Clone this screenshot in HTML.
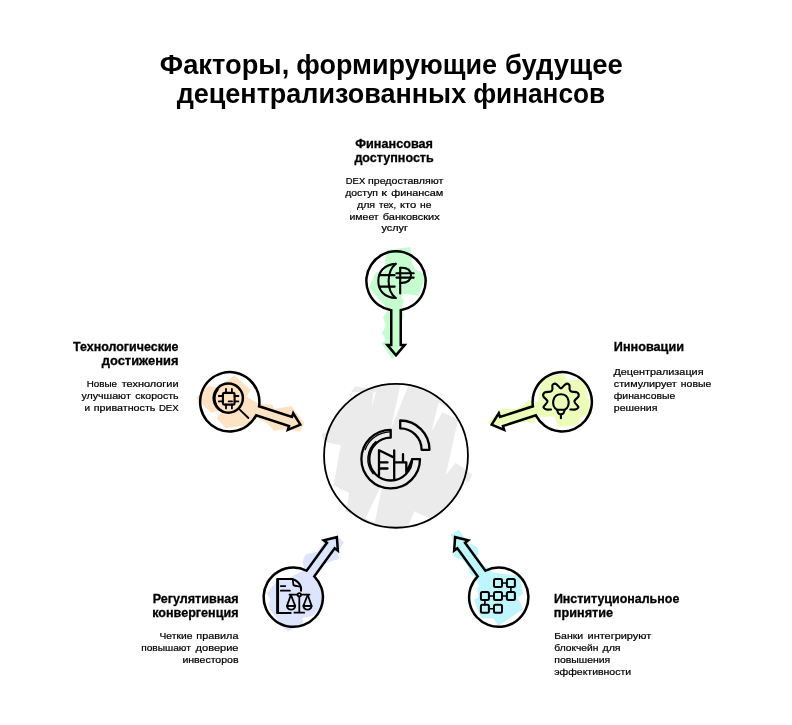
<!DOCTYPE html>
<html lang="ru">
<head>
<meta charset="utf-8">
<title>Факторы, формирующие будущее децентрализованных финансов</title>
<style>
html,body{margin:0;padding:0;background:#fff;}
body{width:792px;height:725px;overflow:hidden;font-family:"Liberation Sans", sans-serif;}
svg{display:block;will-change:transform;}
text{font-family:"Liberation Sans", sans-serif;fill:#000;}
text.b{stroke:#000;stroke-width:0.22px;}
text.h{stroke:#000;stroke-width:0.3px;}
.ln{fill:none;stroke:#000;stroke-linecap:round;stroke-linejoin:round;}
</style>
</head>
<body>
<svg width="792" height="725" viewBox="0 0 792 725">
<rect width="792" height="725" fill="#fff"/>

<g id="title">
<text y="73.9" font-size="27" font-weight="bold"><tspan x="159.85" textLength="129.4" lengthAdjust="spacingAndGlyphs">Факторы,</tspan> <tspan x="296.35" textLength="200.6" lengthAdjust="spacingAndGlyphs">формирующие</tspan> <tspan x="504.95" textLength="117.7" lengthAdjust="spacingAndGlyphs">будущее</tspan></text>
<text y="103.3" font-size="27" font-weight="bold"><tspan x="176.65" textLength="289.5" lengthAdjust="spacingAndGlyphs">децентрализованных</tspan> <tspan x="473.15" textLength="132.0" lengthAdjust="spacingAndGlyphs">финансов</tspan></text>
</g>
<g id="blobs">
<polygon fill="#c6fdcf" points="386.7,250.3 410.6,247.0 411.6,260.9 414.1,268.3 423.6,273.8 425.0,276.8 418.6,295.6 402.7,293.7 401.7,297.6 403.7,300.6 401.7,307.6 403.7,313.5 403.4,318.0 401.5,322.0 401.8,340.4 399.9,344.9 398.1,351.8 392.4,359.8 381.7,343.2 385.9,339.9 382.0,333.0 385.8,326.0 383.2,317.1 388.5,309.9 368.9,287.7 375.9,272.3 384.3,271.8 384.8,263.9"/>
<polygon fill="#fde3c4" points="234.7,375.6 250.6,390.0 246.8,396.8 258.2,403.6 272.6,404.7 274.1,408.9 291.5,405.9 304.4,423.3 299.8,431.7 287.0,428.6 274.1,430.9 267.3,423.3 255.2,417.3 246.0,425.6 225.6,427.9 216.5,418.0 222.6,409.7 211.2,412.7 196.0,398.3 208.2,385.5 216.5,387.7"/>
<polygon fill="#ebfdb8" points="543.6,376.4 564.1,374.1 566.4,380.2 584.5,379.4 590.6,408.9 592.9,413.5 580.0,418.0 579.2,424.8 558.8,427.1 554.2,416.5 536.8,417.3 534.2,422.9 525.2,422.1 503.8,425.7 496.0,424.9 487.0,423.3 502.2,408.5 516.1,409.0 522.7,406.1 528.4,400.3 538.3,402.1 540.6,384.7"/>
<polygon fill="#dce5fd" points="340.5,538.5 343.7,542.5 338.1,552.0 338.9,559.1 326.2,563.1 315.1,576.6 321.4,588.5 323.8,604.4 311.9,616.3 302.4,617.9 303.2,624.2 288.1,631.3 284.1,628.2 270.6,610.7 268.3,604.4 270.6,599.6 266.7,593.3 278.6,579.0 289.7,577.4 302.4,571.0 304.0,566.3 302.4,561.5 305.6,554.4 316.7,552.0 324.6,540.9 329.4,539.3"/>
<polygon fill="#bff5fc" points="458.8,529.8 463.2,536.1 469.0,543.2 476.8,546.6 478.7,552.0 477.1,556.7 482.6,564.7 489.8,568.7 492.1,572.6 519.1,575.8 523.1,594.0 517.5,597.2 523.1,609.1 498.5,625.8 493.7,618.7 481.0,617.9 473.9,599.6 478.7,597.2 477.1,588.5 479.4,586.1 474.7,577.4 469.1,572.6 469.1,567.9 462.8,559.9 454.0,556.7 454.8,548.8 450.9,534.5"/>
</g>
<g id="center">
<circle cx="396.0" cy="455.8" r="71.9" fill="#ebebeb"/>
<polygon fill="#ebebeb" points="351.0,392.0 355.3,386.2 369.0,388.5 362.0,392.0"/>
<polygon fill="#ebebeb" points="321.2,434.8 325.5,432.3 331.0,440.0 326.0,444.0"/>
<polygon fill="#ebebeb" points="455.6,462.8 472.2,474.4 468.0,483.0 458.0,472.0"/>
<polygon fill="#ebebeb" points="347.0,506.2 345.0,511.4 365.7,517.2 360.0,510.0"/>
<polygon fill="#fff" points="373.2,393.0 376.0,391.5 371.9,406.9"/>
<polygon fill="#fff" points="400.5,384.0 408.5,385.5 390.9,428.6"/>
<polygon fill="#fff" points="438.5,402.5 431.6,431.3 442.4,412.3 458.1,419.7 452.0,410.0"/>
<polygon fill="#fff" points="458.1,419.7 445.7,475.2 455.6,462.8 470.0,472.5 471.0,445.0 463.0,428.0"/>
<polygon fill="#fff" points="325.3,442.0 340.8,445.2 333.6,485.5 349.1,492.8 347.0,506.2 338.0,500.0 328.0,485.0 322.0,460.0"/>
<polygon fill="#fff" points="365.4,518.5 374.8,522.5 383.0,482.0"/>
<polygon fill="#fff" points="409.1,524.5 414.3,511.3 433.7,520.6 422.0,527.0"/>
<circle class="ln" cx="396.0" cy="455.8" r="71.95" stroke-width="1.8"/>
</g>
<g id="pins">
<path class="ln" stroke-width="2.5" style="stroke-linejoin:miter" transform="translate(396.00,281.00) rotate(90)" d="M29.27,-4.75 A29.65 29.65 0 1 0 29.27,4.75 L63.9,4.75 L63.9,8.7 L74.2,0 L63.9,-8.7 L63.9,-4.75 Z"/>
<path class="ln" stroke-width="2.5" style="stroke-linejoin:miter" transform="translate(562.24,401.78) rotate(162)" d="M29.27,-4.75 A29.65 29.65 0 1 0 29.27,4.75 L63.9,4.75 L63.9,8.7 L74.2,0 L63.9,-8.7 L63.9,-4.75 Z"/>
<path class="ln" stroke-width="2.5" style="stroke-linejoin:miter" transform="translate(498.74,597.22) rotate(234)" d="M29.27,-4.75 A29.65 29.65 0 1 0 29.27,4.75 L63.9,4.75 L63.9,8.7 L74.2,0 L63.9,-8.7 L63.9,-4.75 Z"/>
<path class="ln" stroke-width="2.5" style="stroke-linejoin:miter" transform="translate(293.26,597.22) rotate(306)" d="M29.27,-4.75 A29.65 29.65 0 1 0 29.27,4.75 L63.9,4.75 L63.9,8.7 L74.2,0 L63.9,-8.7 L63.9,-4.75 Z"/>
<path class="ln" stroke-width="2.5" style="stroke-linejoin:miter" transform="translate(229.76,401.78) rotate(378)" d="M29.27,-4.75 A29.65 29.65 0 1 0 29.27,4.75 L63.9,4.75 L63.9,8.7 L74.2,0 L63.9,-8.7 L63.9,-4.75 Z"/>
</g>
<g id="icons">
<g class="ln" stroke-width="2.1">
<path d="M395.7,263.9 C384,264.5 378.3,272 378.3,281 C378.3,290 384,297.5 395.7,298"/>
<path d="M395.7,263.9 C390.5,268 388.6,274 388.6,281 C388.6,288 390.5,294 395.7,298"/>
<path d="M379.6,275.1 H394.7 M379.6,286.6 H394.7"/>
<path d="M400.2,267.8 V293.5"/>
<path d="M400.2,267.8 C408,267 411,271 411,275.3 C411,279.6 408,283.3 400.2,282.8"/>
<path d="M396.4,273.2 H413.7 M396.4,277.6 H413.7"/>
</g>
<g class="ln" stroke-width="1.8">
<circle cx="228.3" cy="398.1" r="14.6" stroke-width="2.5"/>
<path d="M222.5,411.2 A14.4 14.4 0 0 1 217.2,389.2" stroke-width="1.4" transform="translate(0.9,0.3)"/>
<path d="M239.5,409.3 L248.4,418"/>
<rect x="222.9" y="392.9" width="11.7" height="11.7" rx="1.6" stroke-width="2.1"/>
<path d="M226,388.8 V393 M231.9,388.8 V393 M226,404.4 V408.4 M231.9,404.4 V408.4"/>
<path d="M218.8,396 H223 M218.8,401.4 H223 M234.4,396 H238.4 M234.4,401.4 H238.4"/>
<path d="M228.6,401.4 H232"/>
</g>
<g class="ln" stroke-width="2.1">
<path d="M551.07,409.45 C550.32,409.45 547.86,409.87 546.59,409.45 C545.32,409.03 543.30,408.28 543.45,406.94 C543.60,405.59 547.51,403.17 547.48,401.38 C547.45,399.59 543.72,397.67 543.27,396.18 C542.82,394.68 543.54,393.19 544.79,392.41 C546.05,391.64 549.53,392.04 550.80,391.52 C552.07,390.99 552.14,390.32 552.41,389.28 C552.68,388.23 552.04,386.18 552.41,385.24 C552.79,384.30 553.88,383.70 554.65,383.63 C555.43,383.55 556.03,384.00 557.08,384.79 C558.12,385.58 559.65,388.38 560.93,388.38 C562.22,388.38 563.74,385.58 564.79,384.79 C565.83,384.00 566.43,383.55 567.21,383.63 C567.98,383.70 569.04,384.30 569.45,385.24 C569.85,386.18 569.33,388.23 569.63,389.28 C569.93,390.32 570.00,390.99 571.24,391.52 C572.48,392.04 575.84,391.64 577.07,392.41 C578.29,393.19 579.04,394.68 578.59,396.18 C578.14,397.67 574.41,399.59 574.38,401.38 C574.35,403.17 578.26,405.59 578.41,406.94 C578.56,408.28 576.62,409.03 575.28,409.45 C573.93,409.87 571.17,409.45 570.34,409.45 "/>
<path d="M557.2,409.8 C550.3,405.5 552.6,394.3 560.9,394.3 C569.2,394.3 571.5,405.5 564.6,409.8"/>
<path d="M557.2,409.8 C557.8,412.8 558.2,414.3 560.9,414.3 C563.6,414.3 564,412.8 564.6,409.8 Z"/>
<path d="M560.9,414.5 V418.2"/>
</g>
<g class="ln" stroke-width="1.75">
<path d="M290.6,613.05 H277.2 V579 H292.4 C296.6,580.4 299.9,583.6 301,587.3 V590.7" stroke-width="2.1"/>
<path d="M278,579.4 V612.8" stroke-width="2.1"/>
<path d="M292.6,579.4 C293.3,581.4 293.1,583.4 293.4,585.1 C295.6,586.2 297.6,586 299.6,586.6"/>
<path d="M280.8,586 H285.3 M280.8,590.7 H289.9"/>
<circle cx="299.3" cy="594.7" r="1.7" style="fill:#fff"/>
<path d="M299.3,596.5 V612.7 M294.4,612.7 H304.2"/>
<path d="M289.5,594.7 H297.5 M301.1,594.7 H309.5"/>
<path d="M287,605.9 C287.4,610.7 294.8,610.7 295.2,605.9 Z" style="fill:#f4f7ff"/>
<path d="M290.9,594.9 L287,605.9 H295.2 Z"/>
<path d="M303.4,605.9 C303.8,610.7 311.2,610.7 311.6,605.9 Z" style="fill:#f4f7ff"/>
<path d="M307.7,594.9 L303.4,605.9 H311.6 Z"/>
</g>
<g class="ln" stroke-width="2"><rect x="494.00" y="579.00" width="8.0" height="8.0" rx="1.5"/><rect x="506.90" y="579.00" width="8.0" height="8.0" rx="1.5"/><rect x="480.90" y="592.00" width="8.0" height="8.0" rx="1.5"/><rect x="494.00" y="592.00" width="8.0" height="8.0" rx="1.5"/><rect x="506.90" y="592.00" width="8.0" height="8.0" rx="1.5"/><rect x="480.90" y="604.70" width="8.0" height="8.0" rx="1.5"/><rect x="494.00" y="604.70" width="8.0" height="8.0" rx="1.5"/><path stroke-width="1.6" d="M502.0,583.0 H506.9 M488.9,596.0 H494.0 M502.0,596.0 H506.9 M488.9,608.7 H494.0 M510.9,587.0 V592.0 M484.9,600.0 V604.7"/></g>
<g class="ln" stroke-width="2.3">
<path d="M390.70,429.80 A29.3 29.3 0 1 0 420.00,459.10 L412.10,459.10 A21.4 21.4 0 1 1 390.70,437.70 Z"/>
<path d="M400.20,420.50 A29.3 29.3 0 0 1 429.50,449.80 L421.60,449.80 A21.4 21.4 0 0 0 400.20,428.40 Z"/>
<path d="M379,450.3 V475 M379,450.3 L394.2,457.6 M394.2,450.3 V479.6 M379,462.4 H387.5 M379,468.5 H387.5"/>
<path d="M394.2,462.4 H406.3 V472.4 M403,454.2 V462.4 M407.6,470 L412.4,459.3"/>
<path d="M365.1,449.8 A27.2 27.2 0 0 1 389.75,431.9" stroke-width="1.2"/>
<path d="M376,441.6 A22.9 22.9 0 0 0 373.2,473.8" stroke-width="1.4"/>
</g>
</g>
<g id="labels">
<text y="148.1" font-size="12.5" font-weight="bold" class="h"><tspan x="355.27" textLength="77.65" lengthAdjust="spacingAndGlyphs">Финансовая</tspan></text>
<text y="161.5" font-size="12.5" font-weight="bold" class="h"><tspan x="354.38" textLength="79.35" lengthAdjust="spacingAndGlyphs">доступность</tspan></text>
<text y="183.9" font-size="9.6" font-weight="normal" class="b"><tspan x="345.82" textLength="19.36" lengthAdjust="spacingAndGlyphs">DEX</tspan> <tspan x="368.02" textLength="75.26" lengthAdjust="spacingAndGlyphs">предоставляют</tspan></text>
<text y="195.9" font-size="9.6" font-weight="normal" class="b"><tspan x="345.32" textLength="32.66" lengthAdjust="spacingAndGlyphs">доступ</tspan> <tspan x="381.22" textLength="5.76" lengthAdjust="spacingAndGlyphs">к</tspan> <tspan x="391.22" textLength="52.06" lengthAdjust="spacingAndGlyphs">финансам</tspan></text>
<text y="207.6" font-size="9.6" font-weight="normal" class="b"><tspan x="356.92" textLength="18.26" lengthAdjust="spacingAndGlyphs">для</tspan> <tspan x="379.12" textLength="16.96" lengthAdjust="spacingAndGlyphs">тех,</tspan> <tspan x="399.92" textLength="16.26" lengthAdjust="spacingAndGlyphs">кто</tspan> <tspan x="420.12" textLength="11.36" lengthAdjust="spacingAndGlyphs">не</tspan></text>
<text y="219.5" font-size="9.6" font-weight="normal" class="b"><tspan x="349.52" textLength="29.16" lengthAdjust="spacingAndGlyphs">имеет</tspan> <tspan x="382.82" textLength="56.96" lengthAdjust="spacingAndGlyphs">банковских</tspan></text>
<text y="231.2" font-size="9.6" font-weight="normal" class="b"><tspan x="381.42" textLength="26.46" lengthAdjust="spacingAndGlyphs">услуг</tspan></text>
<text y="351.1" font-size="12.5" font-weight="bold" class="h"><tspan x="72.97" textLength="105.55" lengthAdjust="spacingAndGlyphs">Технологические</tspan></text>
<text y="364.9" font-size="12.5" font-weight="bold" class="h"><tspan x="101.78" textLength="76.75" lengthAdjust="spacingAndGlyphs">достижения</tspan></text>
<text y="386.7" font-size="9.6" font-weight="normal" class="b"><tspan x="86.72" textLength="30.16" lengthAdjust="spacingAndGlyphs">Новые</tspan> <tspan x="121.72" textLength="56.86" lengthAdjust="spacingAndGlyphs">технологии</tspan></text>
<text y="398.7" font-size="9.6" font-weight="normal" class="b"><tspan x="81.42" textLength="49.36" lengthAdjust="spacingAndGlyphs">улучшают</tspan> <tspan x="135.32" textLength="43.26" lengthAdjust="spacingAndGlyphs">скорость</tspan></text>
<text y="410.5" font-size="9.6" font-weight="normal" class="b"><tspan x="84.52" textLength="5.56" lengthAdjust="spacingAndGlyphs">и</tspan> <tspan x="93.72" textLength="61.66" lengthAdjust="spacingAndGlyphs">приватность</tspan> <tspan x="158.92" textLength="19.66" lengthAdjust="spacingAndGlyphs">DEX</tspan></text>
<text y="351.3" font-size="12.5" font-weight="bold" class="h"><tspan x="613.77" textLength="70.25" lengthAdjust="spacingAndGlyphs">Инновации</tspan></text>
<text y="374.9" font-size="9.6" font-weight="normal" class="b"><tspan x="613.42" textLength="90.16" lengthAdjust="spacingAndGlyphs">Децентрализация</tspan></text>
<text y="386.7" font-size="9.6" font-weight="normal" class="b"><tspan x="613.82" textLength="62.96" lengthAdjust="spacingAndGlyphs">стимулирует</tspan> <tspan x="680.82" textLength="30.46" lengthAdjust="spacingAndGlyphs">новые</tspan></text>
<text y="398.7" font-size="9.6" font-weight="normal" class="b"><tspan x="613.82" textLength="61.36" lengthAdjust="spacingAndGlyphs">финансовые</tspan></text>
<text y="410.8" font-size="9.6" font-weight="normal" class="b"><tspan x="613.82" textLength="43.56" lengthAdjust="spacingAndGlyphs">решения</tspan></text>
<text y="603.1" font-size="12.5" font-weight="bold" class="h"><tspan x="152.68" textLength="85.85" lengthAdjust="spacingAndGlyphs">Регулятивная</tspan></text>
<text y="616.5" font-size="12.5" font-weight="bold" class="h"><tspan x="152.18" textLength="86.35" lengthAdjust="spacingAndGlyphs">конвергенция</tspan></text>
<text y="638.8" font-size="9.6" font-weight="normal" class="b"><tspan x="159.52" textLength="32.86" lengthAdjust="spacingAndGlyphs">Четкие</tspan> <tspan x="196.32" textLength="42.16" lengthAdjust="spacingAndGlyphs">правила</tspan></text>
<text y="650.7" font-size="9.6" font-weight="normal" class="b"><tspan x="141.22" textLength="49.56" lengthAdjust="spacingAndGlyphs">повышают</tspan> <tspan x="195.62" textLength="42.86" lengthAdjust="spacingAndGlyphs">доверие</tspan></text>
<text y="662.5" font-size="9.6" font-weight="normal" class="b"><tspan x="182.42" textLength="56.06" lengthAdjust="spacingAndGlyphs">инвесторов</tspan></text>
<text y="603.3" font-size="12.5" font-weight="bold" class="h"><tspan x="553.88" textLength="125.45" lengthAdjust="spacingAndGlyphs">Институциональное</tspan></text>
<text y="616.5" font-size="12.5" font-weight="bold" class="h"><tspan x="553.88" textLength="59.15" lengthAdjust="spacingAndGlyphs">принятие</tspan></text>
<text y="639.0" font-size="9.6" font-weight="normal" class="b"><tspan x="554.22" textLength="28.96" lengthAdjust="spacingAndGlyphs">Банки</tspan> <tspan x="587.52" textLength="63.76" lengthAdjust="spacingAndGlyphs">интегрируют</tspan></text>
<text y="650.9" font-size="9.6" font-weight="normal" class="b"><tspan x="554.22" textLength="44.26" lengthAdjust="spacingAndGlyphs">блокчейн</tspan> <tspan x="602.42" textLength="18.26" lengthAdjust="spacingAndGlyphs">для</tspan></text>
<text y="662.8" font-size="9.6" font-weight="normal" class="b"><tspan x="554.22" textLength="56.06" lengthAdjust="spacingAndGlyphs">повышения</tspan></text>
<text y="674.5" font-size="9.6" font-weight="normal" class="b"><tspan x="554.22" textLength="76.86" lengthAdjust="spacingAndGlyphs">эффективности</tspan></text>
</g>
</svg>
</body>
</html>
